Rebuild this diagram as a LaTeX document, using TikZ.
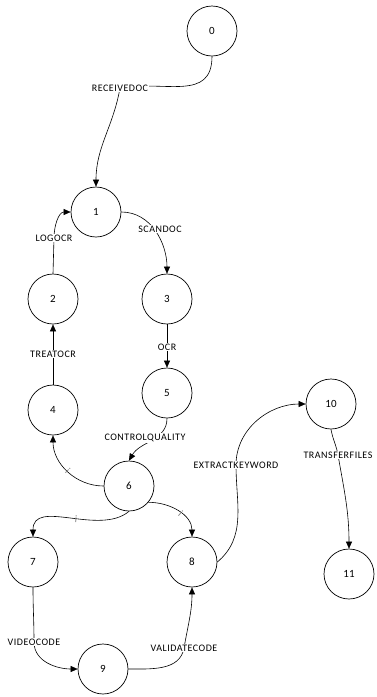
\documentclass[tikz,border=0pt]{standalone}
\usepackage{fontspec}
\setmainfont{Carlito}
\newfontfamily\lblfont[LetterSpace=5]{Carlito}
\usetikzlibrary{arrows.meta}
\begin{document}
\begin{tikzpicture}[x=1pt,y=1pt,
  state/.style={circle,draw,line width=0.7pt,minimum size=50pt,inner sep=0pt,font=\fontsize{11}{13}\selectfont},
  lbl/.style={fill=white,inner sep=1pt,font=\lblfont\fontsize{10}{12}\selectfont},
  tick/.style={text=black!50,inner sep=0pt,font=\fontsize{10}{11}\selectfont},
  edge/.style={line width=0.6pt,-{Triangle[length=7pt,width=6pt]}}]
\useasboundingbox (0,0) rectangle (376,-697);
% states
\node[state] (n0) at (212,-31) {0};
\node[state] (n1) at (96,-212) {1};
\node[state] (n2) at (53,-299) {2};
\node[state] (n3) at (167,-299) {3};
\node[state] (n4) at (53,-410) {4};
\node[state] (n5) at (167,-393) {5};
\node[state] (n6) at (129,-486) {6};
\node[state] (n7) at (33,-562) {7};
\node[state] (n8) at (192,-562) {8};
\node[state] (n9) at (103,-669) {9};
\node[state] (n10) at (331,-404) {10};
\node[state] (n11) at (349,-574) {11};
% label anchor points
\coordinate (c01) at (120,-88);
\coordinate (c21) at (54,-238);
\coordinate (c13) at (160,-229);
\coordinate (c42) at (53,-354);
\coordinate (c35) at (167,-347);
\coordinate (c56) at (145,-438);
\coordinate (c810) at (236,-465);
\coordinate (c1011) at (338,-455);
\coordinate (c79) at (34,-642);
\coordinate (c98) at (184,-648);
% edges
\draw[edge] (n0.south) to[out=-90,in=10,looseness=1.2] (c01) to[out=-100,in=90] (n1.north);
\draw[edge] (n2.north) -- (c21) to[out=90,in=180] (n1.west);
\draw[edge] (n1.east) to[out=0,in=90] (n3.north);
\draw[edge] (n4.north) -- (n2.south);
\draw[edge] (n3.south) -- (n5.north);
\draw[edge] (n5.south) to[out=-90,in=60] (n6.north);
\draw[edge] (n6.west) to[out=180,in=-90] node[tick,pos=0.5,sloped]{i} (n4.south);
\draw[edge] (n6.south) to[out=-140,in=90] node[tick,pos=0.45,sloped]{i} (n7.north);
\draw[edge] (n6.-40) to[out=0,in=90] node[tick,pos=0.55,sloped]{i} (n8.north);
\draw[edge] (n8.east) to[out=40,in=-90] (c810) to[out=90,in=180] (n10.west);
\draw[edge] (n10.south) to[out=-80,in=100] (c1011) to[out=-80,in=90] (n11.north);
\draw[edge] (n7.south) to[out=-90,in=90] (c79) to[out=-90,in=180] (n9.west);
\draw[edge] (n9.east) to[out=0,in=-100] (c98) to[out=80,in=-90] (n8.south);
% labels
\node[lbl] (l01) at (c01) {RECEIVEDOC};
\node[lbl] (l21) at (c21) {LOGOCR};
\node[lbl] (l13) at (c13) {SCANDOC};
\node[lbl] (l42) at (c42) {TREATOCR};
\node[lbl] (l35) at (c35) {OCR};
\node[lbl] (l56) at (c56) {CONTROLQUALITY};
\node[lbl] (l810) at (c810) {EXTRACTKEYWORD};
\node[lbl] (l1011) at (c1011) {TRANSFERFILES};
\node[lbl] (l79) at (c79) {VIDEOCODE};
\node[lbl] (l98) at (c98) {VALIDATECODE};
\end{tikzpicture}
\end{document}
